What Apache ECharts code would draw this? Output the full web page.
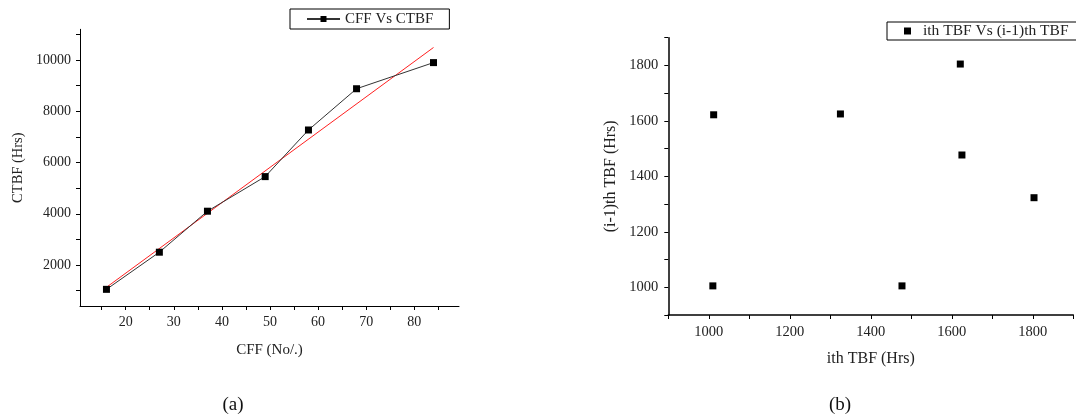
<!DOCTYPE html>
<html><head><meta charset="utf-8">
<script src="https://cdn.jsdelivr.net/npm/echarts@6/dist/echarts.min.js"></script>
<style>html,body{margin:0;padding:0;background:#fff}#c{width:1076px;height:415px}</style>
</head><body><div id="c"></div>
<script>
// Chart (a): CFF vs CTBF
var cff = [16, 27, 37, 49, 58, 68, 84];
var ctbf = [1050, 2500, 4100, 5450, 7270, 8880, 9900];
var fitX = [16, 84];
var fitY = [1130, 10490];
var aXTicks = [15, 20, 25, 30, 35, 40, 45, 50, 55, 60, 65, 70, 75, 80, 85];
var aXLabels = [20, 30, 40, 50, 60, 70, 80];
var aYTicks = [1000, 2000, 3000, 4000, 5000, 6000, 7000, 8000, 9000, 10000, 11000];
var aYLabels = [2000, 4000, 6000, 8000, 10000];
// Chart (b): ith TBF vs (i-1)th TBF
var ithTBF = [1010, 1012, 1325, 1477, 1621, 1625, 1803];
var prevTBF = [1005, 1622, 1625, 1005, 1805, 1477, 1323];
var bTicks = [900, 1000, 1100, 1200, 1300, 1400, 1500, 1600, 1700, 1800, 1900];
var bLabels = [1000, 1200, 1400, 1600, 1800];

var FONT = "'Liberation Serif', 'Times New Roman', serif";
var TXT = '#222';
function zip(a, b) { return a.map(function (v, i) { return [v, b[i]]; }); }
function plain(v) { return String(v); }

var chart = echarts.init(document.getElementById('c'), null, {renderer: 'canvas'});
chart.setOption({
  animation: false,
  backgroundColor: '#fff',
  textStyle: {fontFamily: FONT, color: TXT},
  title: [
    {text: '(a)', left: 228, top: 400, textAlign: 'center', textVerticalAlign: 'middle',
     textStyle: {fontFamily: FONT, fontSize: 19, fontWeight: 'normal', color: '#111'}},
    {text: '(b)', left: 835, top: 400, textAlign: 'center', textVerticalAlign: 'middle',
     textStyle: {fontFamily: FONT, fontSize: 19, fontWeight: 'normal', color: '#111'}}
  ],
  legend: [
    {data: ['CFF Vs CTBF'], left: 290, top: 9, orient: 'horizontal',
     borderColor: '#000', borderWidth: 1, borderRadius: 0, padding: [2, 16, 2, 16],
     itemWidth: 33, itemHeight: 7.5, itemGap: 0,
     textStyle: {fontFamily: FONT, fontSize: 15, color: TXT, lineHeight: 16}},
    {data: ['ith TBF Vs (i-1)th TBF'], left: 887, top: 22, orient: 'horizontal',
     borderColor: '#000', borderWidth: 1, borderRadius: 0, padding: [1, 20, 1, 17],
     icon: 'rect', itemWidth: 7, itemHeight: 7, itemGap: 0,
     itemStyle: {opacity: 1},
     textStyle: {fontFamily: FONT, fontSize: 15.5, color: TXT, lineHeight: 16, padding: [0, 0, 0, 7]}}
  ],
  grid: [
    {left: 80, top: 29.3, right: 617, bottom: 109},
    {left: 668.3, top: 37.7, right: 2.7, bottom: 100}
  ],
  xAxis: [
    {gridIndex: 0, type: 'value', min: 10.5, max: 89.3,
     name: 'CFF (No/.)', nameLocation: 'middle', nameGap: 37,
     nameTextStyle: {fontFamily: FONT, fontSize: 15, color: TXT},
     axisLine: {lineStyle: {color: '#000', width: 1}},
     axisTick: {show: true, inside: false, length: 4, customValues: aXTicks, lineStyle: {color: '#000'}},
     axisLabel: {customValues: aXLabels, formatter: plain, margin: 9, fontFamily: FONT, fontSize: 14, color: TXT},
     splitLine: {show: false}},
    {gridIndex: 1, type: 'value', min: 900, max: 1900,
     name: 'ith TBF (Hrs)', nameLocation: 'middle', nameGap: 36,
     nameTextStyle: {fontFamily: FONT, fontSize: 16, color: TXT},
     axisLine: {lineStyle: {color: '#000', width: 1.5}},
     axisTick: {show: true, inside: false, length: 4, customValues: bTicks, lineStyle: {color: '#000'}},
     axisLabel: {customValues: bLabels, formatter: plain, margin: 10, fontFamily: FONT, fontSize: 14.5, color: TXT},
     splitLine: {show: false}}
  ],
  yAxis: [
    {gridIndex: 0, type: 'value', min: 400, max: 11200,
     name: 'CTBF (Hrs)', nameLocation: 'middle', nameGap: 54, nameRotate: 90,
     nameTextStyle: {fontFamily: FONT, fontSize: 14.5, color: TXT},
     axisLine: {show: true, lineStyle: {color: '#000', width: 1}},
     axisTick: {show: true, inside: false, length: 4, customValues: aYTicks, lineStyle: {color: '#000'}},
     axisLabel: {customValues: aYLabels, formatter: plain, margin: 9, fontFamily: FONT, fontSize: 14, color: TXT},
     splitLine: {show: false}},
    {gridIndex: 1, type: 'value', min: 900, max: 1900,
     name: '(i-1)th TBF (Hrs)', nameLocation: 'middle', nameGap: 50, nameRotate: 90,
     nameTextStyle: {fontFamily: FONT, fontSize: 16, color: TXT},
     axisLine: {show: true, lineStyle: {color: '#000', width: 1.5}},
     axisTick: {show: true, inside: false, length: 4, customValues: bTicks, lineStyle: {color: '#000'}},
     axisLabel: {customValues: bLabels, formatter: plain, margin: 10, fontFamily: FONT, fontSize: 14.5, color: TXT},
     splitLine: {show: false}}
  ],
  series: [
    {name: 'CFF Vs CTBF', type: 'line', xAxisIndex: 0, yAxisIndex: 0,
     data: zip(cff, ctbf), symbol: 'rect', symbolSize: 7,
     itemStyle: {color: '#000'}, lineStyle: {color: '#333', width: 1}, z: 3},
    {name: 'fit', type: 'line', xAxisIndex: 0, yAxisIndex: 0,
     data: zip(fitX, fitY), symbol: 'none',
     lineStyle: {color: '#ff2020', width: 1}, itemStyle: {color: '#ff2020'}, z: 2},
    {name: 'ith TBF Vs (i-1)th TBF', type: 'scatter', xAxisIndex: 1, yAxisIndex: 1,
     data: zip(ithTBF, prevTBF), symbol: 'rect', symbolSize: 7,
     itemStyle: {color: '#000', opacity: 1}}
  ]
});
</script></body></html>
